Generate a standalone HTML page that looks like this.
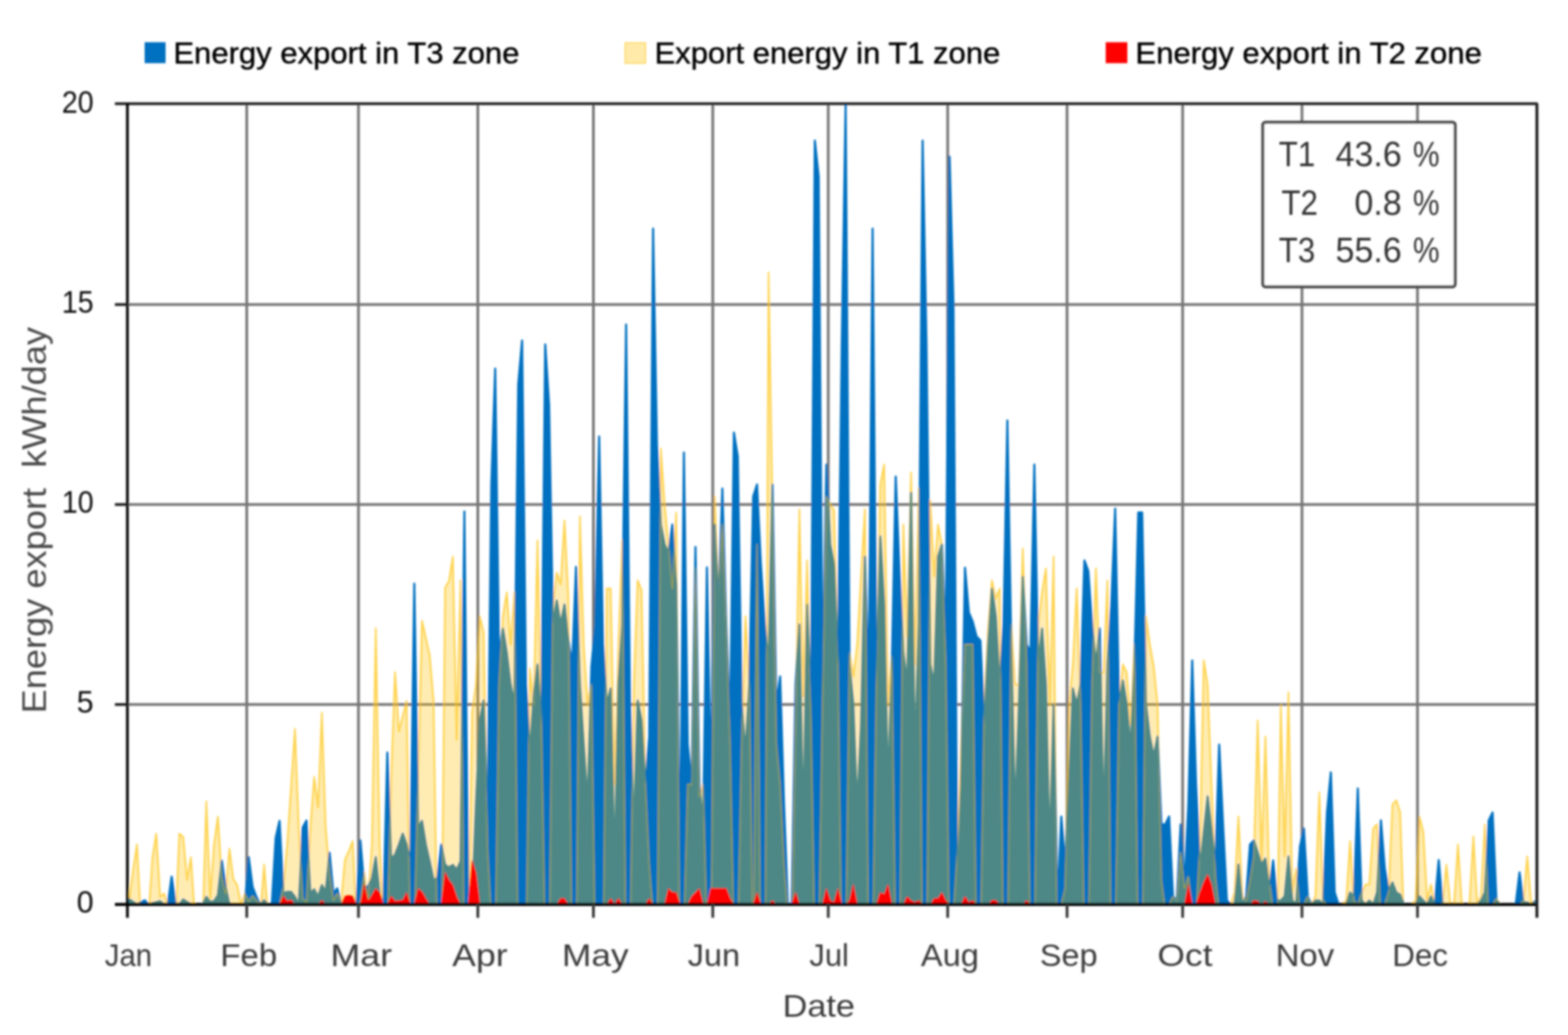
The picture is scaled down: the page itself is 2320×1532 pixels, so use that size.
<!DOCTYPE html>
<html lang="en"><head><meta charset="utf-8"><title>Energy export chart</title>
<style>
html,body{margin:0;padding:0;background:#fff;}
body{width:2320px;height:1532px;overflow:hidden;}
svg{display:block;font-family:"Liberation Sans",sans-serif;}
</style></head><body>
<svg width="2320" height="1532" viewBox="0 0 2320 1532">
<defs><filter id="bl" x="-2%" y="-2%" width="104%" height="104%"><feGaussianBlur stdDeviation="1.4"/></filter><clipPath id="cp"><rect x="187" y="150" width="2088" height="1190.5"/></clipPath></defs>
<rect width="2320" height="1532" fill="#fff"/>
<g filter="url(#bl)">
<g stroke="#757575" stroke-width="4" fill="none">
<line x1="365.1" y1="154" x2="365.1" y2="1339"/>
<line x1="530.4" y1="154" x2="530.4" y2="1339"/>
<line x1="707.0" y1="154" x2="707.0" y2="1339"/>
<line x1="878.0" y1="154" x2="878.0" y2="1339"/>
<line x1="1054.6" y1="154" x2="1054.6" y2="1339"/>
<line x1="1225.5" y1="154" x2="1225.5" y2="1339"/>
<line x1="1402.2" y1="154" x2="1402.2" y2="1339"/>
<line x1="1578.8" y1="154" x2="1578.8" y2="1339"/>
<line x1="1749.8" y1="154" x2="1749.8" y2="1339"/>
<line x1="1926.4" y1="154" x2="1926.4" y2="1339"/>
<line x1="2097.3" y1="154" x2="2097.3" y2="1339"/>
<line x1="188" y1="1042.8" x2="2273" y2="1042.8"/>
<line x1="188" y1="746.8" x2="2273" y2="746.8"/>
<line x1="188" y1="450.8" x2="2273" y2="450.8"/>
</g>
<g clip-path="url(#cp)">
<path d="M191.3 1338.8 L191.3 1331.2 L197.0 1335.0 L202.7 1338.8 L208.4 1335.6 L214.1 1332.5 L219.8 1338.8 L225.5 1337.1 L231.2 1335.4 L236.9 1333.8 L242.6 1338.8 L248.3 1338.8 L254.0 1297.5 L259.7 1338.8 L265.4 1338.8 L271.1 1331.2 L276.8 1335.0 L282.5 1338.8 L288.2 1338.8 L293.9 1338.8 L299.6 1338.8 L305.3 1327.5 L311.0 1335.0 L316.7 1333.8 L322.4 1325.0 L328.1 1273.8 L333.8 1312.5 L339.5 1338.8 L345.2 1338.8 L350.9 1338.8 L356.6 1338.8 L362.3 1338.8 L368.0 1268.8 L373.7 1312.5 L379.4 1327.5 L385.1 1338.8 L390.8 1332.5 L396.5 1338.8 L402.2 1338.8 L407.9 1240.0 L413.6 1215.0 L419.3 1322.5 L425.0 1320.0 L430.7 1320.0 L436.4 1327.5 L442.1 1338.8 L447.8 1225.0 L453.5 1214.5 L459.2 1322.5 L464.9 1316.2 L470.6 1327.5 L476.2 1310.0 L481.9 1320.0 L487.6 1262.0 L493.3 1322.5 L499.0 1315.0 L504.7 1338.8 L510.4 1338.8 L516.1 1338.8 L521.8 1338.8 L527.5 1338.8 L533.2 1243.8 L538.9 1312.5 L544.6 1312.5 L550.3 1300.0 L556.0 1268.8 L561.7 1325.0 L567.4 1338.8 L573.1 1113.8 L578.8 1271.2 L584.5 1265.0 L590.2 1250.0 L595.9 1233.8 L601.6 1250.0 L607.3 1275.0 L613.0 863.8 L618.7 1225.0 L624.4 1215.0 L630.1 1250.0 L635.8 1275.0 L641.5 1302.5 L647.2 1300.0 L652.9 1250.0 L658.6 1280.0 L664.3 1283.8 L670.0 1280.0 L675.7 1287.5 L681.4 1275.0 L687.1 757.0 L692.8 1338.8 L698.5 1338.8 L704.2 1190.8 L709.9 1066.4 L715.6 1036.8 L721.3 1220.3 L727.0 717.1 L732.7 545.5 L738.4 971.7 L744.1 930.3 L749.8 965.8 L755.5 1013.1 L761.1 1042.8 L766.8 569.1 L772.5 504.0 L778.2 1013.1 L783.9 1113.8 L789.6 1030.9 L795.3 983.5 L801.0 1072.3 L806.7 509.9 L812.4 598.8 L818.1 924.3 L823.8 888.8 L829.5 924.3 L835.2 894.8 L840.9 948.0 L846.6 983.5 L852.3 839.1 L858.0 1013.1 L863.7 1102.0 L869.4 1190.8 L875.1 986.5 L880.8 924.3 L886.5 646.1 L892.2 954.0 L897.9 1042.8 L903.6 1019.1 L909.3 1285.5 L915.0 1013.1 L920.7 924.3 L926.4 480.3 L932.1 1042.8 L937.8 1232.2 L943.5 1036.8 L949.2 1066.4 L954.9 1161.2 L960.6 1090.1 L966.3 338.3 L972.0 657.9 L977.7 776.4 L983.4 805.9 L989.1 817.8 L994.8 776.4 L1000.5 865.1 L1006.2 1279.5 L1011.9 669.8 L1017.6 1102.0 L1023.3 1161.2 L1029.0 809.5 L1034.7 1161.2 L1040.4 1220.3 L1046.0 839.7 L1051.7 1161.2 L1057.4 776.4 L1063.1 894.8 L1068.8 723.1 L1074.5 924.3 L1080.2 1072.3 L1085.9 640.2 L1091.6 675.7 L1097.3 1042.8 L1103.0 1113.8 L1108.7 1013.1 L1114.4 734.9 L1120.1 717.1 L1125.8 835.5 L1131.5 924.3 L1137.2 983.5 L1142.9 717.1 L1148.6 1042.8 L1154.3 1001.3 L1160.0 1190.8 L1165.7 1338.8 L1171.4 1338.8 L1177.1 1013.1 L1182.8 924.3 L1188.5 1226.3 L1194.2 894.8 L1199.9 1042.8 L1205.6 208.0 L1211.3 261.3 L1217.0 1013.1 L1222.7 687.5 L1228.4 805.9 L1234.1 835.5 L1239.8 983.5 L1245.5 509.9 L1251.2 154.8 L1256.9 983.5 L1262.6 1042.8 L1268.3 1196.7 L1274.0 1072.3 L1279.7 823.7 L1285.4 1013.1 L1291.1 338.3 L1296.8 1013.1 L1302.5 794.1 L1308.2 894.8 L1313.9 1167.1 L1319.6 983.5 L1325.3 705.3 L1330.9 847.4 L1336.6 965.8 L1342.3 1013.1 L1348.0 729.0 L1353.7 1125.6 L1359.4 924.3 L1365.1 208.0 L1370.8 509.9 L1376.5 983.5 L1382.2 1013.1 L1387.9 823.7 L1393.6 805.9 L1399.3 954.0 L1405.0 231.7 L1410.7 450.8 L1416.4 1321.0 L1422.1 1161.2 L1427.8 840.3 L1433.5 906.6 L1439.2 920.2 L1444.9 942.1 L1450.6 948.0 L1456.3 1072.3 L1462.0 954.0 L1467.7 871.1 L1473.4 912.5 L1479.1 1013.1 L1484.8 924.3 L1490.5 622.4 L1496.2 954.0 L1501.9 1208.5 L1507.6 1042.8 L1513.3 853.3 L1519.0 954.0 L1524.7 965.8 L1530.4 687.5 L1536.1 983.5 L1541.8 930.3 L1547.5 1013.1 L1553.2 1261.8 L1558.9 1042.8 L1564.6 1338.8 L1570.3 1208.5 L1576.0 1279.5 L1581.7 1161.2 L1587.4 1019.1 L1593.1 1042.8 L1598.8 1013.1 L1604.5 829.6 L1610.2 845.0 L1615.8 924.3 L1621.5 983.5 L1627.2 930.3 L1632.9 1220.3 L1638.6 983.5 L1644.3 894.8 L1650.0 752.7 L1655.7 1042.8 L1661.4 1007.2 L1667.1 1042.8 L1672.8 1107.9 L1678.5 983.5 L1684.2 758.6 L1689.9 758.6 L1695.6 1042.8 L1701.3 1090.1 L1707.0 1119.7 L1712.7 1090.1 L1718.4 1220.3 L1724.1 1220.3 L1729.8 1208.5 L1735.5 1326.9 L1741.2 1332.8 L1746.9 1220.3 L1752.6 1309.2 L1758.3 1190.8 L1764.0 977.6 L1769.7 1161.2 L1775.4 1285.5 L1781.1 1232.2 L1786.8 1178.9 L1792.5 1226.3 L1798.2 1279.5 L1803.9 1102.0 L1809.6 1220.3 L1815.3 1332.8 L1821.0 1338.8 L1826.7 1338.8 L1832.4 1279.5 L1838.1 1338.8 L1843.8 1326.9 L1849.5 1250.0 L1855.2 1244.0 L1860.9 1261.8 L1866.6 1279.5 L1872.3 1270.7 L1878.0 1315.1 L1883.7 1273.6 L1889.4 1332.8 L1895.1 1332.8 L1900.7 1326.9 L1906.4 1267.7 L1912.1 1332.8 L1917.8 1338.8 L1923.5 1252.9 L1929.2 1226.3 L1934.9 1326.9 L1940.6 1338.8 L1946.3 1332.8 L1952.0 1332.8 L1957.7 1338.8 L1963.4 1202.6 L1969.1 1143.4 L1974.8 1321.0 L1980.5 1338.8 L1986.2 1338.8 L1991.9 1338.8 L1997.6 1321.0 L2003.3 1326.9 L2009.0 1167.1 L2014.7 1332.8 L2020.4 1338.8 L2026.1 1332.8 L2031.8 1338.8 L2037.5 1321.0 L2043.2 1214.4 L2048.9 1285.5 L2054.6 1318.0 L2060.3 1306.2 L2066.0 1321.0 L2071.7 1324.0 L2077.4 1338.8 L2083.1 1338.8 L2088.8 1338.8 L2094.5 1338.8 L2100.2 1326.9 L2105.9 1332.8 L2111.6 1338.8 L2117.3 1326.9 L2123.0 1338.8 L2128.7 1273.0 L2134.4 1338.8 L2140.1 1338.8 L2145.8 1338.8 L2151.5 1338.8 L2157.2 1338.8 L2162.9 1338.8 L2168.6 1338.8 L2174.3 1338.8 L2180.0 1338.8 L2185.6 1338.8 L2191.3 1332.8 L2197.0 1321.0 L2202.7 1214.4 L2208.4 1202.6 L2214.1 1332.8 L2219.8 1338.8 L2225.5 1338.8 L2231.2 1338.8 L2236.9 1338.8 L2242.6 1338.8 L2248.3 1291.4 L2254.0 1335.8 L2259.7 1335.8 L2265.4 1338.8 L2271.1 1334.0 L2271.1 1338.8Z" fill="#0070c0" stroke="#0070c0" stroke-width="3.1" stroke-linejoin="round"/>
<path d="M191.3 1338.8 L191.3 1332.5 L197.0 1287.5 L202.7 1250.0 L207.3 1338.8 L214.1 1338.8 L220.9 1338.8 L225.5 1270.0 L231.2 1233.8 L236.9 1327.5 L242.6 1322.5 L248.3 1338.8 L254.0 1338.8 L260.8 1338.8 L265.4 1233.8 L271.1 1238.8 L276.8 1302.5 L282.5 1268.8 L287.1 1338.8 L293.9 1338.8 L300.7 1338.8 L305.3 1186.2 L311.0 1330.0 L316.7 1250.0 L322.4 1208.8 L328.1 1297.5 L333.8 1322.5 L339.5 1256.2 L345.2 1301.2 L350.9 1310.0 L356.6 1338.8 L362.3 1322.5 L368.0 1333.8 L373.7 1326.2 L379.4 1332.5 L386.2 1338.8 L390.8 1280.0 L395.4 1338.8 L402.2 1338.8 L407.9 1338.8 L413.6 1338.8 L419.3 1312.5 L425.0 1250.0 L430.7 1164.4 L436.4 1078.8 L442.1 1225.0 L447.8 1330.0 L453.5 1335.0 L459.2 1225.0 L464.9 1150.0 L470.6 1195.0 L476.2 1055.0 L481.9 1225.0 L487.6 1292.5 L493.3 1332.5 L499.0 1322.5 L504.7 1335.0 L510.4 1272.5 L516.1 1260.0 L521.8 1245.0 L526.4 1338.8 L533.2 1335.0 L538.9 1291.2 L544.6 1332.5 L550.3 1250.0 L556.0 930.0 L561.7 1250.0 L566.3 1338.8 L574.2 1338.8 L578.8 1150.0 L584.5 995.0 L590.2 1082.5 L595.9 1060.0 L601.6 1037.5 L606.2 1338.8 L614.1 1338.8 L618.7 1150.0 L624.4 918.8 L630.1 944.4 L635.8 970.0 L641.5 1037.5 L646.1 1338.8 L654.0 1338.8 L658.6 870.0 L664.3 860.0 L670.0 823.8 L675.7 1095.0 L681.4 858.8 L686.0 1338.8 L693.9 1338.8 L698.5 1054.6 L704.2 1013.1 L709.9 912.5 L715.6 936.2 L721.3 1255.9 L725.9 1338.8 L733.8 1338.8 L738.4 1013.1 L744.1 912.5 L749.8 877.0 L755.5 954.0 L761.1 877.0 L765.7 1338.8 L772.5 1338.8 L779.3 1338.8 L783.9 989.5 L789.6 1042.8 L795.3 800.0 L801.0 1072.3 L805.6 1338.8 L813.5 1338.8 L818.1 894.8 L823.8 847.4 L829.5 865.1 L835.2 770.4 L840.9 882.9 L845.5 1338.8 L853.4 1338.8 L858.0 764.5 L863.7 954.0 L869.4 1042.8 L875.1 1013.1 L879.7 1338.8 L886.5 1338.8 L893.3 1338.8 L897.9 871.1 L903.6 871.1 L909.3 1161.2 L915.0 954.0 L920.7 800.0 L925.3 1338.8 L933.2 1338.8 L937.8 1013.1 L943.5 859.2 L949.2 873.4 L954.9 1161.2 L960.6 1279.5 L965.2 1338.8 L973.1 1338.8 L977.7 663.9 L983.4 746.8 L989.1 805.9 L994.8 871.1 L1000.5 758.6 L1005.1 1338.8 L1013.0 1338.8 L1017.6 1161.2 L1023.3 1161.2 L1029.0 839.7 L1034.7 1178.9 L1040.4 1161.2 L1044.9 1338.8 L1052.8 1338.8 L1057.4 734.9 L1063.1 877.0 L1068.8 776.4 L1074.5 924.3 L1080.2 1102.0 L1084.8 1338.8 L1092.7 1338.8 L1097.3 1102.0 L1103.0 912.5 L1108.7 1013.1 L1113.3 1338.8 L1115.5 1338.8 L1120.1 805.9 L1124.7 1338.8 L1132.6 1338.8 L1137.2 403.4 L1142.9 746.8 L1148.6 1102.0 L1154.3 1161.2 L1160.0 1279.5 L1164.6 1338.8 L1172.5 1338.8 L1177.1 1072.3 L1182.8 753.9 L1188.5 1030.9 L1194.2 829.6 L1199.9 1072.3 L1204.5 1338.8 L1212.4 1338.8 L1217.0 1042.8 L1222.7 734.9 L1228.4 746.8 L1234.1 755.0 L1239.8 983.5 L1244.4 1338.8 L1252.3 1338.8 L1256.9 965.8 L1262.6 1001.3 L1268.3 954.0 L1274.0 853.3 L1279.7 753.9 L1284.3 1338.8 L1292.2 1338.8 L1296.8 1013.1 L1302.5 717.1 L1308.2 687.5 L1313.9 1042.8 L1319.6 971.7 L1324.2 1338.8 L1332.0 1338.8 L1336.6 776.4 L1342.3 942.1 L1348.0 699.4 L1353.7 983.5 L1359.4 723.1 L1364.0 1338.8 L1371.9 1338.8 L1376.5 740.8 L1382.2 853.3 L1387.9 776.4 L1393.6 805.9 L1399.3 983.5 L1403.9 1338.8 L1411.8 1338.8 L1416.4 1261.8 L1422.1 1102.0 L1427.8 954.0 L1433.5 954.0 L1439.2 954.0 L1443.8 1338.8 L1451.7 1338.8 L1456.3 1042.8 L1462.0 930.3 L1467.7 859.2 L1473.4 885.9 L1479.1 871.1 L1483.7 1338.8 L1491.6 1338.8 L1496.2 924.3 L1501.9 1013.1 L1507.6 1013.1 L1513.3 811.9 L1519.0 983.5 L1523.6 1338.8 L1531.5 1338.8 L1536.1 924.3 L1541.8 877.0 L1547.5 841.5 L1553.2 1042.8 L1558.9 823.7 L1563.5 1338.8 L1570.3 1338.8 L1576.0 1315.1 L1581.7 1042.8 L1587.4 983.5 L1593.1 871.1 L1598.8 1042.8 L1603.4 1338.8 L1611.3 1338.8 L1615.8 1013.1 L1621.5 841.5 L1627.2 995.4 L1632.9 995.4 L1638.6 859.2 L1643.2 1338.8 L1651.1 1338.8 L1655.7 1042.8 L1661.4 983.5 L1667.1 995.4 L1672.8 1072.3 L1678.5 954.0 L1683.1 1338.8 L1691.0 1338.8 L1695.6 912.5 L1701.3 954.0 L1707.0 986.5 L1712.7 1042.8 L1718.4 1303.2 L1723.0 1338.8 L1729.8 1338.8 L1735.5 1326.9 L1741.2 1332.8 L1746.9 1261.8 L1752.6 1315.1 L1758.3 1297.3 L1762.9 1338.8 L1770.8 1338.8 L1775.4 1250.0 L1781.1 977.6 L1786.8 1013.1 L1792.5 1161.2 L1798.2 1297.3 L1802.8 1338.8 L1809.6 1338.8 L1815.3 1338.8 L1821.0 1338.8 L1826.7 1321.0 L1832.4 1208.5 L1838.1 1326.9 L1843.8 1332.8 L1849.5 1303.2 L1855.2 1267.7 L1860.9 1066.4 L1866.6 1273.6 L1872.3 1090.1 L1878.0 1303.2 L1882.6 1338.8 L1890.5 1338.8 L1895.1 1042.8 L1900.7 1267.7 L1906.4 1025.0 L1912.1 1321.0 L1917.8 1285.5 L1922.4 1338.8 L1929.2 1338.8 L1934.9 1326.9 L1940.6 1338.8 L1946.3 1326.9 L1952.0 1173.0 L1957.7 1332.8 L1963.4 1338.8 L1969.1 1338.8 L1974.8 1338.8 L1980.5 1338.8 L1986.2 1338.8 L1991.9 1332.8 L1997.6 1245.2 L2003.3 1332.8 L2009.0 1338.8 L2014.7 1321.0 L2020.4 1309.2 L2026.1 1309.2 L2031.8 1226.3 L2037.5 1220.3 L2042.1 1338.8 L2048.9 1338.8 L2054.6 1321.0 L2060.3 1190.8 L2066.0 1184.8 L2071.7 1202.6 L2076.3 1338.8 L2083.1 1338.8 L2088.8 1338.8 L2094.5 1332.8 L2100.2 1209.1 L2105.9 1231.0 L2111.6 1332.8 L2117.3 1309.2 L2123.0 1338.8 L2128.7 1338.8 L2134.4 1335.8 L2140.1 1280.1 L2145.8 1337.6 L2151.5 1337.0 L2157.2 1250.0 L2162.9 1337.0 L2168.6 1338.8 L2174.3 1337.0 L2180.0 1238.1 L2185.6 1337.0 L2191.3 1326.9 L2197.0 1220.3 L2201.6 1338.8 L2208.4 1338.8 L2214.1 1329.9 L2219.8 1338.8 L2225.5 1338.8 L2231.2 1338.8 L2236.9 1338.8 L2242.6 1338.8 L2248.3 1338.8 L2254.0 1332.8 L2259.7 1267.7 L2265.4 1335.8 L2271.1 1334.0 L2271.1 1338.8Z" fill="#ffc000" fill-opacity="0.3" stroke="none"/>
<mask id="nb" maskUnits="userSpaceOnUse" x="180" y="140" width="2110" height="1210"><rect x="180" y="140" width="2110" height="1210" fill="#fff"/><path d="M191.3 1338.8 L191.3 1331.2 L197.0 1335.0 L202.7 1338.8 L208.4 1335.6 L214.1 1332.5 L219.8 1338.8 L225.5 1337.1 L231.2 1335.4 L236.9 1333.8 L242.6 1338.8 L248.3 1338.8 L254.0 1297.5 L259.7 1338.8 L265.4 1338.8 L271.1 1331.2 L276.8 1335.0 L282.5 1338.8 L288.2 1338.8 L293.9 1338.8 L299.6 1338.8 L305.3 1327.5 L311.0 1335.0 L316.7 1333.8 L322.4 1325.0 L328.1 1273.8 L333.8 1312.5 L339.5 1338.8 L345.2 1338.8 L350.9 1338.8 L356.6 1338.8 L362.3 1338.8 L368.0 1268.8 L373.7 1312.5 L379.4 1327.5 L385.1 1338.8 L390.8 1332.5 L396.5 1338.8 L402.2 1338.8 L407.9 1240.0 L413.6 1215.0 L419.3 1322.5 L425.0 1320.0 L430.7 1320.0 L436.4 1327.5 L442.1 1338.8 L447.8 1225.0 L453.5 1214.5 L459.2 1322.5 L464.9 1316.2 L470.6 1327.5 L476.2 1310.0 L481.9 1320.0 L487.6 1262.0 L493.3 1322.5 L499.0 1315.0 L504.7 1338.8 L510.4 1338.8 L516.1 1338.8 L521.8 1338.8 L527.5 1338.8 L533.2 1243.8 L538.9 1312.5 L544.6 1312.5 L550.3 1300.0 L556.0 1268.8 L561.7 1325.0 L567.4 1338.8 L573.1 1113.8 L578.8 1271.2 L584.5 1265.0 L590.2 1250.0 L595.9 1233.8 L601.6 1250.0 L607.3 1275.0 L613.0 863.8 L618.7 1225.0 L624.4 1215.0 L630.1 1250.0 L635.8 1275.0 L641.5 1302.5 L647.2 1300.0 L652.9 1250.0 L658.6 1280.0 L664.3 1283.8 L670.0 1280.0 L675.7 1287.5 L681.4 1275.0 L687.1 757.0 L692.8 1338.8 L698.5 1338.8 L704.2 1190.8 L709.9 1066.4 L715.6 1036.8 L721.3 1220.3 L727.0 717.1 L732.7 545.5 L738.4 971.7 L744.1 930.3 L749.8 965.8 L755.5 1013.1 L761.1 1042.8 L766.8 569.1 L772.5 504.0 L778.2 1013.1 L783.9 1113.8 L789.6 1030.9 L795.3 983.5 L801.0 1072.3 L806.7 509.9 L812.4 598.8 L818.1 924.3 L823.8 888.8 L829.5 924.3 L835.2 894.8 L840.9 948.0 L846.6 983.5 L852.3 839.1 L858.0 1013.1 L863.7 1102.0 L869.4 1190.8 L875.1 986.5 L880.8 924.3 L886.5 646.1 L892.2 954.0 L897.9 1042.8 L903.6 1019.1 L909.3 1285.5 L915.0 1013.1 L920.7 924.3 L926.4 480.3 L932.1 1042.8 L937.8 1232.2 L943.5 1036.8 L949.2 1066.4 L954.9 1161.2 L960.6 1090.1 L966.3 338.3 L972.0 657.9 L977.7 776.4 L983.4 805.9 L989.1 817.8 L994.8 776.4 L1000.5 865.1 L1006.2 1279.5 L1011.9 669.8 L1017.6 1102.0 L1023.3 1161.2 L1029.0 809.5 L1034.7 1161.2 L1040.4 1220.3 L1046.0 839.7 L1051.7 1161.2 L1057.4 776.4 L1063.1 894.8 L1068.8 723.1 L1074.5 924.3 L1080.2 1072.3 L1085.9 640.2 L1091.6 675.7 L1097.3 1042.8 L1103.0 1113.8 L1108.7 1013.1 L1114.4 734.9 L1120.1 717.1 L1125.8 835.5 L1131.5 924.3 L1137.2 983.5 L1142.9 717.1 L1148.6 1042.8 L1154.3 1001.3 L1160.0 1190.8 L1165.7 1338.8 L1171.4 1338.8 L1177.1 1013.1 L1182.8 924.3 L1188.5 1226.3 L1194.2 894.8 L1199.9 1042.8 L1205.6 208.0 L1211.3 261.3 L1217.0 1013.1 L1222.7 687.5 L1228.4 805.9 L1234.1 835.5 L1239.8 983.5 L1245.5 509.9 L1251.2 154.8 L1256.9 983.5 L1262.6 1042.8 L1268.3 1196.7 L1274.0 1072.3 L1279.7 823.7 L1285.4 1013.1 L1291.1 338.3 L1296.8 1013.1 L1302.5 794.1 L1308.2 894.8 L1313.9 1167.1 L1319.6 983.5 L1325.3 705.3 L1330.9 847.4 L1336.6 965.8 L1342.3 1013.1 L1348.0 729.0 L1353.7 1125.6 L1359.4 924.3 L1365.1 208.0 L1370.8 509.9 L1376.5 983.5 L1382.2 1013.1 L1387.9 823.7 L1393.6 805.9 L1399.3 954.0 L1405.0 231.7 L1410.7 450.8 L1416.4 1321.0 L1422.1 1161.2 L1427.8 840.3 L1433.5 906.6 L1439.2 920.2 L1444.9 942.1 L1450.6 948.0 L1456.3 1072.3 L1462.0 954.0 L1467.7 871.1 L1473.4 912.5 L1479.1 1013.1 L1484.8 924.3 L1490.5 622.4 L1496.2 954.0 L1501.9 1208.5 L1507.6 1042.8 L1513.3 853.3 L1519.0 954.0 L1524.7 965.8 L1530.4 687.5 L1536.1 983.5 L1541.8 930.3 L1547.5 1013.1 L1553.2 1261.8 L1558.9 1042.8 L1564.6 1338.8 L1570.3 1208.5 L1576.0 1279.5 L1581.7 1161.2 L1587.4 1019.1 L1593.1 1042.8 L1598.8 1013.1 L1604.5 829.6 L1610.2 845.0 L1615.8 924.3 L1621.5 983.5 L1627.2 930.3 L1632.9 1220.3 L1638.6 983.5 L1644.3 894.8 L1650.0 752.7 L1655.7 1042.8 L1661.4 1007.2 L1667.1 1042.8 L1672.8 1107.9 L1678.5 983.5 L1684.2 758.6 L1689.9 758.6 L1695.6 1042.8 L1701.3 1090.1 L1707.0 1119.7 L1712.7 1090.1 L1718.4 1220.3 L1724.1 1220.3 L1729.8 1208.5 L1735.5 1326.9 L1741.2 1332.8 L1746.9 1220.3 L1752.6 1309.2 L1758.3 1190.8 L1764.0 977.6 L1769.7 1161.2 L1775.4 1285.5 L1781.1 1232.2 L1786.8 1178.9 L1792.5 1226.3 L1798.2 1279.5 L1803.9 1102.0 L1809.6 1220.3 L1815.3 1332.8 L1821.0 1338.8 L1826.7 1338.8 L1832.4 1279.5 L1838.1 1338.8 L1843.8 1326.9 L1849.5 1250.0 L1855.2 1244.0 L1860.9 1261.8 L1866.6 1279.5 L1872.3 1270.7 L1878.0 1315.1 L1883.7 1273.6 L1889.4 1332.8 L1895.1 1332.8 L1900.7 1326.9 L1906.4 1267.7 L1912.1 1332.8 L1917.8 1338.8 L1923.5 1252.9 L1929.2 1226.3 L1934.9 1326.9 L1940.6 1338.8 L1946.3 1332.8 L1952.0 1332.8 L1957.7 1338.8 L1963.4 1202.6 L1969.1 1143.4 L1974.8 1321.0 L1980.5 1338.8 L1986.2 1338.8 L1991.9 1338.8 L1997.6 1321.0 L2003.3 1326.9 L2009.0 1167.1 L2014.7 1332.8 L2020.4 1338.8 L2026.1 1332.8 L2031.8 1338.8 L2037.5 1321.0 L2043.2 1214.4 L2048.9 1285.5 L2054.6 1318.0 L2060.3 1306.2 L2066.0 1321.0 L2071.7 1324.0 L2077.4 1338.8 L2083.1 1338.8 L2088.8 1338.8 L2094.5 1338.8 L2100.2 1326.9 L2105.9 1332.8 L2111.6 1338.8 L2117.3 1326.9 L2123.0 1338.8 L2128.7 1273.0 L2134.4 1338.8 L2140.1 1338.8 L2145.8 1338.8 L2151.5 1338.8 L2157.2 1338.8 L2162.9 1338.8 L2168.6 1338.8 L2174.3 1338.8 L2180.0 1338.8 L2185.6 1338.8 L2191.3 1332.8 L2197.0 1321.0 L2202.7 1214.4 L2208.4 1202.6 L2214.1 1332.8 L2219.8 1338.8 L2225.5 1338.8 L2231.2 1338.8 L2236.9 1338.8 L2242.6 1338.8 L2248.3 1291.4 L2254.0 1335.8 L2259.7 1335.8 L2265.4 1338.8 L2271.1 1334.0 L2271.1 1338.8Z" fill="#000" stroke="#000" stroke-width="2.4"/></mask>
<clipPath id="inb"><path d="M191.3 1338.8 L191.3 1331.2 L197.0 1335.0 L202.7 1338.8 L208.4 1335.6 L214.1 1332.5 L219.8 1338.8 L225.5 1337.1 L231.2 1335.4 L236.9 1333.8 L242.6 1338.8 L248.3 1338.8 L254.0 1297.5 L259.7 1338.8 L265.4 1338.8 L271.1 1331.2 L276.8 1335.0 L282.5 1338.8 L288.2 1338.8 L293.9 1338.8 L299.6 1338.8 L305.3 1327.5 L311.0 1335.0 L316.7 1333.8 L322.4 1325.0 L328.1 1273.8 L333.8 1312.5 L339.5 1338.8 L345.2 1338.8 L350.9 1338.8 L356.6 1338.8 L362.3 1338.8 L368.0 1268.8 L373.7 1312.5 L379.4 1327.5 L385.1 1338.8 L390.8 1332.5 L396.5 1338.8 L402.2 1338.8 L407.9 1240.0 L413.6 1215.0 L419.3 1322.5 L425.0 1320.0 L430.7 1320.0 L436.4 1327.5 L442.1 1338.8 L447.8 1225.0 L453.5 1214.5 L459.2 1322.5 L464.9 1316.2 L470.6 1327.5 L476.2 1310.0 L481.9 1320.0 L487.6 1262.0 L493.3 1322.5 L499.0 1315.0 L504.7 1338.8 L510.4 1338.8 L516.1 1338.8 L521.8 1338.8 L527.5 1338.8 L533.2 1243.8 L538.9 1312.5 L544.6 1312.5 L550.3 1300.0 L556.0 1268.8 L561.7 1325.0 L567.4 1338.8 L573.1 1113.8 L578.8 1271.2 L584.5 1265.0 L590.2 1250.0 L595.9 1233.8 L601.6 1250.0 L607.3 1275.0 L613.0 863.8 L618.7 1225.0 L624.4 1215.0 L630.1 1250.0 L635.8 1275.0 L641.5 1302.5 L647.2 1300.0 L652.9 1250.0 L658.6 1280.0 L664.3 1283.8 L670.0 1280.0 L675.7 1287.5 L681.4 1275.0 L687.1 757.0 L692.8 1338.8 L698.5 1338.8 L704.2 1190.8 L709.9 1066.4 L715.6 1036.8 L721.3 1220.3 L727.0 717.1 L732.7 545.5 L738.4 971.7 L744.1 930.3 L749.8 965.8 L755.5 1013.1 L761.1 1042.8 L766.8 569.1 L772.5 504.0 L778.2 1013.1 L783.9 1113.8 L789.6 1030.9 L795.3 983.5 L801.0 1072.3 L806.7 509.9 L812.4 598.8 L818.1 924.3 L823.8 888.8 L829.5 924.3 L835.2 894.8 L840.9 948.0 L846.6 983.5 L852.3 839.1 L858.0 1013.1 L863.7 1102.0 L869.4 1190.8 L875.1 986.5 L880.8 924.3 L886.5 646.1 L892.2 954.0 L897.9 1042.8 L903.6 1019.1 L909.3 1285.5 L915.0 1013.1 L920.7 924.3 L926.4 480.3 L932.1 1042.8 L937.8 1232.2 L943.5 1036.8 L949.2 1066.4 L954.9 1161.2 L960.6 1090.1 L966.3 338.3 L972.0 657.9 L977.7 776.4 L983.4 805.9 L989.1 817.8 L994.8 776.4 L1000.5 865.1 L1006.2 1279.5 L1011.9 669.8 L1017.6 1102.0 L1023.3 1161.2 L1029.0 809.5 L1034.7 1161.2 L1040.4 1220.3 L1046.0 839.7 L1051.7 1161.2 L1057.4 776.4 L1063.1 894.8 L1068.8 723.1 L1074.5 924.3 L1080.2 1072.3 L1085.9 640.2 L1091.6 675.7 L1097.3 1042.8 L1103.0 1113.8 L1108.7 1013.1 L1114.4 734.9 L1120.1 717.1 L1125.8 835.5 L1131.5 924.3 L1137.2 983.5 L1142.9 717.1 L1148.6 1042.8 L1154.3 1001.3 L1160.0 1190.8 L1165.7 1338.8 L1171.4 1338.8 L1177.1 1013.1 L1182.8 924.3 L1188.5 1226.3 L1194.2 894.8 L1199.9 1042.8 L1205.6 208.0 L1211.3 261.3 L1217.0 1013.1 L1222.7 687.5 L1228.4 805.9 L1234.1 835.5 L1239.8 983.5 L1245.5 509.9 L1251.2 154.8 L1256.9 983.5 L1262.6 1042.8 L1268.3 1196.7 L1274.0 1072.3 L1279.7 823.7 L1285.4 1013.1 L1291.1 338.3 L1296.8 1013.1 L1302.5 794.1 L1308.2 894.8 L1313.9 1167.1 L1319.6 983.5 L1325.3 705.3 L1330.9 847.4 L1336.6 965.8 L1342.3 1013.1 L1348.0 729.0 L1353.7 1125.6 L1359.4 924.3 L1365.1 208.0 L1370.8 509.9 L1376.5 983.5 L1382.2 1013.1 L1387.9 823.7 L1393.6 805.9 L1399.3 954.0 L1405.0 231.7 L1410.7 450.8 L1416.4 1321.0 L1422.1 1161.2 L1427.8 840.3 L1433.5 906.6 L1439.2 920.2 L1444.9 942.1 L1450.6 948.0 L1456.3 1072.3 L1462.0 954.0 L1467.7 871.1 L1473.4 912.5 L1479.1 1013.1 L1484.8 924.3 L1490.5 622.4 L1496.2 954.0 L1501.9 1208.5 L1507.6 1042.8 L1513.3 853.3 L1519.0 954.0 L1524.7 965.8 L1530.4 687.5 L1536.1 983.5 L1541.8 930.3 L1547.5 1013.1 L1553.2 1261.8 L1558.9 1042.8 L1564.6 1338.8 L1570.3 1208.5 L1576.0 1279.5 L1581.7 1161.2 L1587.4 1019.1 L1593.1 1042.8 L1598.8 1013.1 L1604.5 829.6 L1610.2 845.0 L1615.8 924.3 L1621.5 983.5 L1627.2 930.3 L1632.9 1220.3 L1638.6 983.5 L1644.3 894.8 L1650.0 752.7 L1655.7 1042.8 L1661.4 1007.2 L1667.1 1042.8 L1672.8 1107.9 L1678.5 983.5 L1684.2 758.6 L1689.9 758.6 L1695.6 1042.8 L1701.3 1090.1 L1707.0 1119.7 L1712.7 1090.1 L1718.4 1220.3 L1724.1 1220.3 L1729.8 1208.5 L1735.5 1326.9 L1741.2 1332.8 L1746.9 1220.3 L1752.6 1309.2 L1758.3 1190.8 L1764.0 977.6 L1769.7 1161.2 L1775.4 1285.5 L1781.1 1232.2 L1786.8 1178.9 L1792.5 1226.3 L1798.2 1279.5 L1803.9 1102.0 L1809.6 1220.3 L1815.3 1332.8 L1821.0 1338.8 L1826.7 1338.8 L1832.4 1279.5 L1838.1 1338.8 L1843.8 1326.9 L1849.5 1250.0 L1855.2 1244.0 L1860.9 1261.8 L1866.6 1279.5 L1872.3 1270.7 L1878.0 1315.1 L1883.7 1273.6 L1889.4 1332.8 L1895.1 1332.8 L1900.7 1326.9 L1906.4 1267.7 L1912.1 1332.8 L1917.8 1338.8 L1923.5 1252.9 L1929.2 1226.3 L1934.9 1326.9 L1940.6 1338.8 L1946.3 1332.8 L1952.0 1332.8 L1957.7 1338.8 L1963.4 1202.6 L1969.1 1143.4 L1974.8 1321.0 L1980.5 1338.8 L1986.2 1338.8 L1991.9 1338.8 L1997.6 1321.0 L2003.3 1326.9 L2009.0 1167.1 L2014.7 1332.8 L2020.4 1338.8 L2026.1 1332.8 L2031.8 1338.8 L2037.5 1321.0 L2043.2 1214.4 L2048.9 1285.5 L2054.6 1318.0 L2060.3 1306.2 L2066.0 1321.0 L2071.7 1324.0 L2077.4 1338.8 L2083.1 1338.8 L2088.8 1338.8 L2094.5 1338.8 L2100.2 1326.9 L2105.9 1332.8 L2111.6 1338.8 L2117.3 1326.9 L2123.0 1338.8 L2128.7 1273.0 L2134.4 1338.8 L2140.1 1338.8 L2145.8 1338.8 L2151.5 1338.8 L2157.2 1338.8 L2162.9 1338.8 L2168.6 1338.8 L2174.3 1338.8 L2180.0 1338.8 L2185.6 1338.8 L2191.3 1332.8 L2197.0 1321.0 L2202.7 1214.4 L2208.4 1202.6 L2214.1 1332.8 L2219.8 1338.8 L2225.5 1338.8 L2231.2 1338.8 L2236.9 1338.8 L2242.6 1338.8 L2248.3 1291.4 L2254.0 1335.8 L2259.7 1335.8 L2265.4 1338.8 L2271.1 1334.0 L2271.1 1338.8Z"/></clipPath>
<path d="M191.3 1332.5 L197.0 1287.5 L202.7 1250.0 L207.3 1338.8 L214.1 1338.8 L220.9 1338.8 L225.5 1270.0 L231.2 1233.8 L236.9 1327.5 L242.6 1322.5 L248.3 1338.8 L254.0 1338.8 L260.8 1338.8 L265.4 1233.8 L271.1 1238.8 L276.8 1302.5 L282.5 1268.8 L287.1 1338.8 L293.9 1338.8 L300.7 1338.8 L305.3 1186.2 L311.0 1330.0 L316.7 1250.0 L322.4 1208.8 L328.1 1297.5 L333.8 1322.5 L339.5 1256.2 L345.2 1301.2 L350.9 1310.0 L356.6 1338.8 L362.3 1322.5 L368.0 1333.8 L373.7 1326.2 L379.4 1332.5 L386.2 1338.8 L390.8 1280.0 L395.4 1338.8 L402.2 1338.8 L407.9 1338.8 L413.6 1338.8 L419.3 1312.5 L425.0 1250.0 L430.7 1164.4 L436.4 1078.8 L442.1 1225.0 L447.8 1330.0 L453.5 1335.0 L459.2 1225.0 L464.9 1150.0 L470.6 1195.0 L476.2 1055.0 L481.9 1225.0 L487.6 1292.5 L493.3 1332.5 L499.0 1322.5 L504.7 1335.0 L510.4 1272.5 L516.1 1260.0 L521.8 1245.0 L526.4 1338.8 L533.2 1335.0 L538.9 1291.2 L544.6 1332.5 L550.3 1250.0 L556.0 930.0 L561.7 1250.0 L566.3 1338.8 L574.2 1338.8 L578.8 1150.0 L584.5 995.0 L590.2 1082.5 L595.9 1060.0 L601.6 1037.5 L606.2 1338.8 L614.1 1338.8 L618.7 1150.0 L624.4 918.8 L630.1 944.4 L635.8 970.0 L641.5 1037.5 L646.1 1338.8 L654.0 1338.8 L658.6 870.0 L664.3 860.0 L670.0 823.8 L675.7 1095.0 L681.4 858.8 L686.0 1338.8 L693.9 1338.8 L698.5 1054.6 L704.2 1013.1 L709.9 912.5 L715.6 936.2 L721.3 1255.9 L725.9 1338.8 L733.8 1338.8 L738.4 1013.1 L744.1 912.5 L749.8 877.0 L755.5 954.0 L761.1 877.0 L765.7 1338.8 L772.5 1338.8 L779.3 1338.8 L783.9 989.5 L789.6 1042.8 L795.3 800.0 L801.0 1072.3 L805.6 1338.8 L813.5 1338.8 L818.1 894.8 L823.8 847.4 L829.5 865.1 L835.2 770.4 L840.9 882.9 L845.5 1338.8 L853.4 1338.8 L858.0 764.5 L863.7 954.0 L869.4 1042.8 L875.1 1013.1 L879.7 1338.8 L886.5 1338.8 L893.3 1338.8 L897.9 871.1 L903.6 871.1 L909.3 1161.2 L915.0 954.0 L920.7 800.0 L925.3 1338.8 L933.2 1338.8 L937.8 1013.1 L943.5 859.2 L949.2 873.4 L954.9 1161.2 L960.6 1279.5 L965.2 1338.8 L973.1 1338.8 L977.7 663.9 L983.4 746.8 L989.1 805.9 L994.8 871.1 L1000.5 758.6 L1005.1 1338.8 L1013.0 1338.8 L1017.6 1161.2 L1023.3 1161.2 L1029.0 839.7 L1034.7 1178.9 L1040.4 1161.2 L1044.9 1338.8 L1052.8 1338.8 L1057.4 734.9 L1063.1 877.0 L1068.8 776.4 L1074.5 924.3 L1080.2 1102.0 L1084.8 1338.8 L1092.7 1338.8 L1097.3 1102.0 L1103.0 912.5 L1108.7 1013.1 L1113.3 1338.8 L1115.5 1338.8 L1120.1 805.9 L1124.7 1338.8 L1132.6 1338.8 L1137.2 403.4 L1142.9 746.8 L1148.6 1102.0 L1154.3 1161.2 L1160.0 1279.5 L1164.6 1338.8 L1172.5 1338.8 L1177.1 1072.3 L1182.8 753.9 L1188.5 1030.9 L1194.2 829.6 L1199.9 1072.3 L1204.5 1338.8 L1212.4 1338.8 L1217.0 1042.8 L1222.7 734.9 L1228.4 746.8 L1234.1 755.0 L1239.8 983.5 L1244.4 1338.8 L1252.3 1338.8 L1256.9 965.8 L1262.6 1001.3 L1268.3 954.0 L1274.0 853.3 L1279.7 753.9 L1284.3 1338.8 L1292.2 1338.8 L1296.8 1013.1 L1302.5 717.1 L1308.2 687.5 L1313.9 1042.8 L1319.6 971.7 L1324.2 1338.8 L1332.0 1338.8 L1336.6 776.4 L1342.3 942.1 L1348.0 699.4 L1353.7 983.5 L1359.4 723.1 L1364.0 1338.8 L1371.9 1338.8 L1376.5 740.8 L1382.2 853.3 L1387.9 776.4 L1393.6 805.9 L1399.3 983.5 L1403.9 1338.8 L1411.8 1338.8 L1416.4 1261.8 L1422.1 1102.0 L1427.8 954.0 L1433.5 954.0 L1439.2 954.0 L1443.8 1338.8 L1451.7 1338.8 L1456.3 1042.8 L1462.0 930.3 L1467.7 859.2 L1473.4 885.9 L1479.1 871.1 L1483.7 1338.8 L1491.6 1338.8 L1496.2 924.3 L1501.9 1013.1 L1507.6 1013.1 L1513.3 811.9 L1519.0 983.5 L1523.6 1338.8 L1531.5 1338.8 L1536.1 924.3 L1541.8 877.0 L1547.5 841.5 L1553.2 1042.8 L1558.9 823.7 L1563.5 1338.8 L1570.3 1338.8 L1576.0 1315.1 L1581.7 1042.8 L1587.4 983.5 L1593.1 871.1 L1598.8 1042.8 L1603.4 1338.8 L1611.3 1338.8 L1615.8 1013.1 L1621.5 841.5 L1627.2 995.4 L1632.9 995.4 L1638.6 859.2 L1643.2 1338.8 L1651.1 1338.8 L1655.7 1042.8 L1661.4 983.5 L1667.1 995.4 L1672.8 1072.3 L1678.5 954.0 L1683.1 1338.8 L1691.0 1338.8 L1695.6 912.5 L1701.3 954.0 L1707.0 986.5 L1712.7 1042.8 L1718.4 1303.2 L1723.0 1338.8 L1729.8 1338.8 L1735.5 1326.9 L1741.2 1332.8 L1746.9 1261.8 L1752.6 1315.1 L1758.3 1297.3 L1762.9 1338.8 L1770.8 1338.8 L1775.4 1250.0 L1781.1 977.6 L1786.8 1013.1 L1792.5 1161.2 L1798.2 1297.3 L1802.8 1338.8 L1809.6 1338.8 L1815.3 1338.8 L1821.0 1338.8 L1826.7 1321.0 L1832.4 1208.5 L1838.1 1326.9 L1843.8 1332.8 L1849.5 1303.2 L1855.2 1267.7 L1860.9 1066.4 L1866.6 1273.6 L1872.3 1090.1 L1878.0 1303.2 L1882.6 1338.8 L1890.5 1338.8 L1895.1 1042.8 L1900.7 1267.7 L1906.4 1025.0 L1912.1 1321.0 L1917.8 1285.5 L1922.4 1338.8 L1929.2 1338.8 L1934.9 1326.9 L1940.6 1338.8 L1946.3 1326.9 L1952.0 1173.0 L1957.7 1332.8 L1963.4 1338.8 L1969.1 1338.8 L1974.8 1338.8 L1980.5 1338.8 L1986.2 1338.8 L1991.9 1332.8 L1997.6 1245.2 L2003.3 1332.8 L2009.0 1338.8 L2014.7 1321.0 L2020.4 1309.2 L2026.1 1309.2 L2031.8 1226.3 L2037.5 1220.3 L2042.1 1338.8 L2048.9 1338.8 L2054.6 1321.0 L2060.3 1190.8 L2066.0 1184.8 L2071.7 1202.6 L2076.3 1338.8 L2083.1 1338.8 L2088.8 1338.8 L2094.5 1332.8 L2100.2 1209.1 L2105.9 1231.0 L2111.6 1332.8 L2117.3 1309.2 L2123.0 1338.8 L2128.7 1338.8 L2134.4 1335.8 L2140.1 1280.1 L2145.8 1337.6 L2151.5 1337.0 L2157.2 1250.0 L2162.9 1337.0 L2168.6 1338.8 L2174.3 1337.0 L2180.0 1238.1 L2185.6 1337.0 L2191.3 1326.9 L2197.0 1220.3 L2201.6 1338.8 L2208.4 1338.8 L2214.1 1329.9 L2219.8 1338.8 L2225.5 1338.8 L2231.2 1338.8 L2236.9 1338.8 L2242.6 1338.8 L2248.3 1338.8 L2254.0 1332.8 L2259.7 1267.7 L2265.4 1335.8 L2271.1 1334.0" fill="none" stroke="#ffc000" stroke-opacity="0.6" stroke-width="2.8" stroke-linejoin="round" mask="url(#nb)"/>
<path d="M191.3 1332.5 L197.0 1287.5 L202.7 1250.0 L207.3 1338.8 L214.1 1338.8 L220.9 1338.8 L225.5 1270.0 L231.2 1233.8 L236.9 1327.5 L242.6 1322.5 L248.3 1338.8 L254.0 1338.8 L260.8 1338.8 L265.4 1233.8 L271.1 1238.8 L276.8 1302.5 L282.5 1268.8 L287.1 1338.8 L293.9 1338.8 L300.7 1338.8 L305.3 1186.2 L311.0 1330.0 L316.7 1250.0 L322.4 1208.8 L328.1 1297.5 L333.8 1322.5 L339.5 1256.2 L345.2 1301.2 L350.9 1310.0 L356.6 1338.8 L362.3 1322.5 L368.0 1333.8 L373.7 1326.2 L379.4 1332.5 L386.2 1338.8 L390.8 1280.0 L395.4 1338.8 L402.2 1338.8 L407.9 1338.8 L413.6 1338.8 L419.3 1312.5 L425.0 1250.0 L430.7 1164.4 L436.4 1078.8 L442.1 1225.0 L447.8 1330.0 L453.5 1335.0 L459.2 1225.0 L464.9 1150.0 L470.6 1195.0 L476.2 1055.0 L481.9 1225.0 L487.6 1292.5 L493.3 1332.5 L499.0 1322.5 L504.7 1335.0 L510.4 1272.5 L516.1 1260.0 L521.8 1245.0 L526.4 1338.8 L533.2 1335.0 L538.9 1291.2 L544.6 1332.5 L550.3 1250.0 L556.0 930.0 L561.7 1250.0 L566.3 1338.8 L574.2 1338.8 L578.8 1150.0 L584.5 995.0 L590.2 1082.5 L595.9 1060.0 L601.6 1037.5 L606.2 1338.8 L614.1 1338.8 L618.7 1150.0 L624.4 918.8 L630.1 944.4 L635.8 970.0 L641.5 1037.5 L646.1 1338.8 L654.0 1338.8 L658.6 870.0 L664.3 860.0 L670.0 823.8 L675.7 1095.0 L681.4 858.8 L686.0 1338.8 L693.9 1338.8 L698.5 1054.6 L704.2 1013.1 L709.9 912.5 L715.6 936.2 L721.3 1255.9 L725.9 1338.8 L733.8 1338.8 L738.4 1013.1 L744.1 912.5 L749.8 877.0 L755.5 954.0 L761.1 877.0 L765.7 1338.8 L772.5 1338.8 L779.3 1338.8 L783.9 989.5 L789.6 1042.8 L795.3 800.0 L801.0 1072.3 L805.6 1338.8 L813.5 1338.8 L818.1 894.8 L823.8 847.4 L829.5 865.1 L835.2 770.4 L840.9 882.9 L845.5 1338.8 L853.4 1338.8 L858.0 764.5 L863.7 954.0 L869.4 1042.8 L875.1 1013.1 L879.7 1338.8 L886.5 1338.8 L893.3 1338.8 L897.9 871.1 L903.6 871.1 L909.3 1161.2 L915.0 954.0 L920.7 800.0 L925.3 1338.8 L933.2 1338.8 L937.8 1013.1 L943.5 859.2 L949.2 873.4 L954.9 1161.2 L960.6 1279.5 L965.2 1338.8 L973.1 1338.8 L977.7 663.9 L983.4 746.8 L989.1 805.9 L994.8 871.1 L1000.5 758.6 L1005.1 1338.8 L1013.0 1338.8 L1017.6 1161.2 L1023.3 1161.2 L1029.0 839.7 L1034.7 1178.9 L1040.4 1161.2 L1044.9 1338.8 L1052.8 1338.8 L1057.4 734.9 L1063.1 877.0 L1068.8 776.4 L1074.5 924.3 L1080.2 1102.0 L1084.8 1338.8 L1092.7 1338.8 L1097.3 1102.0 L1103.0 912.5 L1108.7 1013.1 L1113.3 1338.8 L1115.5 1338.8 L1120.1 805.9 L1124.7 1338.8 L1132.6 1338.8 L1137.2 403.4 L1142.9 746.8 L1148.6 1102.0 L1154.3 1161.2 L1160.0 1279.5 L1164.6 1338.8 L1172.5 1338.8 L1177.1 1072.3 L1182.8 753.9 L1188.5 1030.9 L1194.2 829.6 L1199.9 1072.3 L1204.5 1338.8 L1212.4 1338.8 L1217.0 1042.8 L1222.7 734.9 L1228.4 746.8 L1234.1 755.0 L1239.8 983.5 L1244.4 1338.8 L1252.3 1338.8 L1256.9 965.8 L1262.6 1001.3 L1268.3 954.0 L1274.0 853.3 L1279.7 753.9 L1284.3 1338.8 L1292.2 1338.8 L1296.8 1013.1 L1302.5 717.1 L1308.2 687.5 L1313.9 1042.8 L1319.6 971.7 L1324.2 1338.8 L1332.0 1338.8 L1336.6 776.4 L1342.3 942.1 L1348.0 699.4 L1353.7 983.5 L1359.4 723.1 L1364.0 1338.8 L1371.9 1338.8 L1376.5 740.8 L1382.2 853.3 L1387.9 776.4 L1393.6 805.9 L1399.3 983.5 L1403.9 1338.8 L1411.8 1338.8 L1416.4 1261.8 L1422.1 1102.0 L1427.8 954.0 L1433.5 954.0 L1439.2 954.0 L1443.8 1338.8 L1451.7 1338.8 L1456.3 1042.8 L1462.0 930.3 L1467.7 859.2 L1473.4 885.9 L1479.1 871.1 L1483.7 1338.8 L1491.6 1338.8 L1496.2 924.3 L1501.9 1013.1 L1507.6 1013.1 L1513.3 811.9 L1519.0 983.5 L1523.6 1338.8 L1531.5 1338.8 L1536.1 924.3 L1541.8 877.0 L1547.5 841.5 L1553.2 1042.8 L1558.9 823.7 L1563.5 1338.8 L1570.3 1338.8 L1576.0 1315.1 L1581.7 1042.8 L1587.4 983.5 L1593.1 871.1 L1598.8 1042.8 L1603.4 1338.8 L1611.3 1338.8 L1615.8 1013.1 L1621.5 841.5 L1627.2 995.4 L1632.9 995.4 L1638.6 859.2 L1643.2 1338.8 L1651.1 1338.8 L1655.7 1042.8 L1661.4 983.5 L1667.1 995.4 L1672.8 1072.3 L1678.5 954.0 L1683.1 1338.8 L1691.0 1338.8 L1695.6 912.5 L1701.3 954.0 L1707.0 986.5 L1712.7 1042.8 L1718.4 1303.2 L1723.0 1338.8 L1729.8 1338.8 L1735.5 1326.9 L1741.2 1332.8 L1746.9 1261.8 L1752.6 1315.1 L1758.3 1297.3 L1762.9 1338.8 L1770.8 1338.8 L1775.4 1250.0 L1781.1 977.6 L1786.8 1013.1 L1792.5 1161.2 L1798.2 1297.3 L1802.8 1338.8 L1809.6 1338.8 L1815.3 1338.8 L1821.0 1338.8 L1826.7 1321.0 L1832.4 1208.5 L1838.1 1326.9 L1843.8 1332.8 L1849.5 1303.2 L1855.2 1267.7 L1860.9 1066.4 L1866.6 1273.6 L1872.3 1090.1 L1878.0 1303.2 L1882.6 1338.8 L1890.5 1338.8 L1895.1 1042.8 L1900.7 1267.7 L1906.4 1025.0 L1912.1 1321.0 L1917.8 1285.5 L1922.4 1338.8 L1929.2 1338.8 L1934.9 1326.9 L1940.6 1338.8 L1946.3 1326.9 L1952.0 1173.0 L1957.7 1332.8 L1963.4 1338.8 L1969.1 1338.8 L1974.8 1338.8 L1980.5 1338.8 L1986.2 1338.8 L1991.9 1332.8 L1997.6 1245.2 L2003.3 1332.8 L2009.0 1338.8 L2014.7 1321.0 L2020.4 1309.2 L2026.1 1309.2 L2031.8 1226.3 L2037.5 1220.3 L2042.1 1338.8 L2048.9 1338.8 L2054.6 1321.0 L2060.3 1190.8 L2066.0 1184.8 L2071.7 1202.6 L2076.3 1338.8 L2083.1 1338.8 L2088.8 1338.8 L2094.5 1332.8 L2100.2 1209.1 L2105.9 1231.0 L2111.6 1332.8 L2117.3 1309.2 L2123.0 1338.8 L2128.7 1338.8 L2134.4 1335.8 L2140.1 1280.1 L2145.8 1337.6 L2151.5 1337.0 L2157.2 1250.0 L2162.9 1337.0 L2168.6 1338.8 L2174.3 1337.0 L2180.0 1238.1 L2185.6 1337.0 L2191.3 1326.9 L2197.0 1220.3 L2201.6 1338.8 L2208.4 1338.8 L2214.1 1329.9 L2219.8 1338.8 L2225.5 1338.8 L2231.2 1338.8 L2236.9 1338.8 L2242.6 1338.8 L2248.3 1338.8 L2254.0 1332.8 L2259.7 1267.7 L2265.4 1335.8 L2271.1 1334.0" fill="none" stroke="#ffc000" stroke-opacity="0.5" stroke-width="1.8" stroke-linejoin="round" clip-path="url(#inb)"/>
<path d="M191.3 1338.8 L191.3 1338.8 L197.0 1338.8 L202.7 1338.8 L208.4 1338.8 L214.1 1338.8 L219.8 1338.8 L225.5 1338.8 L231.2 1338.8 L236.9 1338.8 L242.6 1338.8 L248.3 1338.8 L254.0 1338.8 L259.7 1338.8 L265.4 1338.8 L271.1 1338.8 L276.8 1338.8 L282.5 1338.8 L288.2 1338.8 L293.9 1338.8 L299.6 1338.8 L305.3 1338.8 L311.0 1338.8 L316.7 1338.8 L322.4 1338.8 L328.1 1338.8 L333.8 1338.8 L339.5 1338.8 L345.2 1338.8 L350.9 1338.8 L356.6 1338.8 L362.3 1338.8 L368.0 1338.8 L373.7 1338.8 L379.4 1338.8 L385.1 1338.8 L390.8 1338.8 L396.5 1338.8 L402.2 1338.8 L407.9 1338.8 L413.6 1338.8 L419.3 1326.2 L425.0 1333.8 L430.7 1332.0 L436.4 1338.8 L442.1 1338.8 L447.8 1338.8 L453.5 1338.8 L459.2 1338.8 L464.9 1338.8 L470.6 1338.8 L476.2 1332.5 L481.9 1338.8 L487.6 1338.8 L493.3 1338.8 L499.0 1338.8 L504.7 1338.8 L510.4 1326.2 L516.1 1325.0 L521.8 1326.2 L527.5 1338.8 L533.2 1338.8 L538.9 1308.8 L544.6 1333.8 L550.3 1325.0 L556.0 1315.0 L561.7 1321.2 L567.4 1338.8 L573.1 1338.8 L578.8 1326.2 L584.5 1333.8 L590.2 1333.1 L595.9 1332.5 L601.6 1321.2 L607.3 1338.8 L613.0 1338.8 L618.7 1315.0 L624.4 1320.0 L630.1 1330.0 L635.8 1338.8 L641.5 1338.8 L647.2 1338.8 L652.9 1338.8 L658.6 1291.2 L664.3 1302.5 L670.0 1310.0 L675.7 1327.5 L681.4 1338.8 L687.1 1338.8 L692.8 1338.8 L698.5 1273.6 L704.2 1291.4 L709.9 1338.8 L715.6 1338.8 L721.3 1338.8 L727.0 1338.8 L732.7 1338.8 L738.4 1338.8 L744.1 1338.8 L749.8 1338.8 L755.5 1338.8 L761.1 1338.8 L766.8 1338.8 L772.5 1338.8 L778.2 1338.8 L783.9 1338.8 L789.6 1338.8 L795.3 1338.8 L801.0 1338.8 L806.7 1338.8 L812.4 1338.8 L818.1 1338.8 L823.8 1338.8 L829.5 1329.9 L835.2 1329.9 L840.9 1338.8 L846.6 1338.8 L852.3 1338.8 L858.0 1338.8 L863.7 1338.8 L869.4 1338.8 L875.1 1338.8 L880.8 1338.8 L886.5 1338.8 L892.2 1338.8 L897.9 1338.8 L903.6 1329.9 L909.3 1338.8 L915.0 1329.9 L920.7 1338.8 L926.4 1338.8 L932.1 1338.8 L937.8 1338.8 L943.5 1338.8 L949.2 1338.8 L954.9 1338.8 L960.6 1329.9 L966.3 1338.8 L972.0 1338.8 L977.7 1338.8 L983.4 1338.8 L989.1 1315.1 L994.8 1321.0 L1000.5 1321.0 L1006.2 1338.8 L1011.9 1338.8 L1017.6 1338.8 L1023.3 1326.9 L1029.0 1321.0 L1034.7 1315.1 L1040.4 1338.8 L1046.0 1338.8 L1051.7 1315.1 L1057.4 1315.1 L1063.1 1315.1 L1068.8 1315.1 L1074.5 1315.1 L1080.2 1329.9 L1085.9 1338.8 L1091.6 1338.8 L1097.3 1338.8 L1103.0 1338.8 L1108.7 1338.8 L1114.4 1338.8 L1120.1 1321.0 L1125.8 1338.8 L1131.5 1338.8 L1137.2 1338.8 L1142.9 1332.8 L1148.6 1338.8 L1154.3 1338.8 L1160.0 1338.8 L1165.7 1338.8 L1171.4 1338.8 L1177.1 1321.0 L1182.8 1338.8 L1188.5 1338.8 L1194.2 1338.8 L1199.9 1338.8 L1205.6 1338.8 L1211.3 1338.8 L1217.0 1338.8 L1222.7 1315.1 L1228.4 1332.8 L1234.1 1335.8 L1239.8 1315.1 L1245.5 1338.8 L1251.2 1338.8 L1256.9 1332.8 L1262.6 1309.2 L1268.3 1338.8 L1274.0 1338.8 L1279.7 1338.8 L1285.4 1338.8 L1291.1 1338.8 L1296.8 1338.8 L1302.5 1321.0 L1308.2 1324.0 L1313.9 1309.2 L1319.6 1338.8 L1325.3 1338.8 L1330.9 1338.8 L1336.6 1338.8 L1342.3 1326.9 L1348.0 1332.8 L1353.7 1335.8 L1359.4 1332.8 L1365.1 1338.8 L1370.8 1338.8 L1376.5 1338.8 L1382.2 1329.9 L1387.9 1329.9 L1393.6 1321.0 L1399.3 1332.8 L1405.0 1338.8 L1410.7 1338.8 L1416.4 1338.8 L1422.1 1338.8 L1427.8 1326.9 L1433.5 1335.8 L1439.2 1332.8 L1444.9 1338.8 L1450.6 1338.8 L1456.3 1338.8 L1462.0 1338.8 L1467.7 1332.8 L1473.4 1332.8 L1479.1 1338.8 L1484.8 1338.8 L1490.5 1338.8 L1496.2 1338.8 L1501.9 1338.8 L1507.6 1338.8 L1513.3 1338.8 L1519.0 1332.8 L1524.7 1338.8 L1530.4 1338.8 L1536.1 1338.8 L1541.8 1338.8 L1547.5 1338.8 L1553.2 1338.8 L1558.9 1338.8 L1564.6 1338.8 L1570.3 1338.8 L1576.0 1338.8 L1581.7 1338.8 L1587.4 1338.8 L1593.1 1338.8 L1598.8 1338.8 L1604.5 1338.8 L1610.2 1338.8 L1615.8 1338.8 L1621.5 1338.8 L1627.2 1338.8 L1632.9 1338.8 L1638.6 1338.8 L1644.3 1338.8 L1650.0 1338.8 L1655.7 1338.8 L1661.4 1338.8 L1667.1 1338.8 L1672.8 1338.8 L1678.5 1338.8 L1684.2 1338.8 L1689.9 1338.8 L1695.6 1338.8 L1701.3 1338.8 L1707.0 1338.8 L1712.7 1338.8 L1718.4 1338.8 L1724.1 1338.8 L1729.8 1338.8 L1735.5 1338.8 L1741.2 1338.8 L1746.9 1338.8 L1752.6 1338.8 L1758.3 1309.2 L1764.0 1338.8 L1769.7 1338.8 L1775.4 1321.0 L1781.1 1306.2 L1786.8 1294.3 L1792.5 1309.2 L1798.2 1338.8 L1803.9 1338.8 L1809.6 1338.8 L1815.3 1338.8 L1821.0 1338.8 L1826.7 1338.8 L1832.4 1338.8 L1838.1 1338.8 L1843.8 1338.8 L1849.5 1338.8 L1855.2 1332.8 L1860.9 1334.0 L1866.6 1338.8 L1872.3 1334.0 L1878.0 1338.8 L1883.7 1338.8 L1889.4 1338.8 L1895.1 1338.8 L1900.7 1338.8 L1906.4 1338.8 L1912.1 1338.8 L1917.8 1338.8 L1923.5 1338.8 L1929.2 1338.8 L1934.9 1338.8 L1940.6 1338.8 L1946.3 1338.8 L1952.0 1338.8 L1957.7 1338.8 L1963.4 1338.8 L1969.1 1338.8 L1974.8 1338.8 L1980.5 1338.8 L1986.2 1338.8 L1991.9 1338.8 L1997.6 1338.8 L2003.3 1338.8 L2009.0 1338.8 L2014.7 1338.8 L2020.4 1338.8 L2026.1 1338.8 L2031.8 1338.8 L2037.5 1338.8 L2043.2 1338.8 L2048.9 1338.8 L2054.6 1338.8 L2060.3 1338.8 L2066.0 1338.8 L2071.7 1338.8 L2077.4 1338.8 L2083.1 1338.8 L2088.8 1338.8 L2094.5 1338.8 L2100.2 1338.8 L2105.9 1338.8 L2111.6 1338.8 L2117.3 1338.8 L2123.0 1338.8 L2128.7 1338.8 L2134.4 1338.8 L2140.1 1338.8 L2145.8 1338.8 L2151.5 1338.8 L2157.2 1338.8 L2162.9 1338.8 L2168.6 1338.8 L2174.3 1338.8 L2180.0 1338.8 L2185.6 1338.8 L2191.3 1338.8 L2197.0 1338.8 L2202.7 1338.8 L2208.4 1338.8 L2214.1 1338.8 L2219.8 1338.8 L2225.5 1338.8 L2231.2 1338.8 L2236.9 1338.8 L2242.6 1338.8 L2248.3 1338.8 L2254.0 1338.8 L2259.7 1338.8 L2265.4 1338.8 L2271.1 1338.8 L2271.1 1338.8Z" fill="#ff0000" stroke="#ff0000" stroke-width="1" stroke-linejoin="round"/>
</g>
<g stroke="#1a1a1a" stroke-width="4" fill="none">
<line x1="170" y1="153.5" x2="2275" y2="153.5"/>
<line x1="170" y1="1338.8" x2="2275" y2="1338.8" stroke="#000" stroke-width="4.4"/>
<line x1="188.5" y1="153" x2="188.5" y2="1358.5" stroke="#000"/>
<line x1="2274" y1="153" x2="2274" y2="1358.5" stroke-width="4.2"/>
<line x1="170" y1="1042.8" x2="190" y2="1042.8"/>
<line x1="170" y1="746.8" x2="190" y2="746.8"/>
<line x1="170" y1="450.8" x2="190" y2="450.8"/>
<line x1="365.1" y1="1338" x2="365.1" y2="1358.5" stroke="#333"/>
<line x1="530.4" y1="1338" x2="530.4" y2="1358.5" stroke="#333"/>
<line x1="707.0" y1="1338" x2="707.0" y2="1358.5" stroke="#333"/>
<line x1="878.0" y1="1338" x2="878.0" y2="1358.5" stroke="#333"/>
<line x1="1054.6" y1="1338" x2="1054.6" y2="1358.5" stroke="#333"/>
<line x1="1225.5" y1="1338" x2="1225.5" y2="1358.5" stroke="#333"/>
<line x1="1402.2" y1="1338" x2="1402.2" y2="1358.5" stroke="#333"/>
<line x1="1578.8" y1="1338" x2="1578.8" y2="1358.5" stroke="#333"/>
<line x1="1749.8" y1="1338" x2="1749.8" y2="1358.5" stroke="#333"/>
<line x1="1926.4" y1="1338" x2="1926.4" y2="1358.5" stroke="#333"/>
<line x1="2097.3" y1="1338" x2="2097.3" y2="1358.5" stroke="#333"/>
</g>
<rect x="1868.5" y="181" width="284.5" height="243.5" rx="4" ry="4" fill="#fff" stroke="#444" stroke-width="4.4"/>
</g>
<g filter="url(#bl)">
<rect x="214" y="62.5" width="31" height="31" fill="#0070c0"/>
<rect x="925" y="63.5" width="30" height="30" fill="#ffeaa9" stroke="#ffd966" stroke-width="2"/>
<rect x="1636" y="62.5" width="32" height="31" fill="#ff0000"/>
<text x="256.5" y="93.5" font-size="45.0" text-anchor="start" fill="#000" textLength="512.0" lengthAdjust="spacingAndGlyphs" stroke="#000" stroke-width="0.6">Energy export in T3 zone</text>
<text x="968.5" y="93.5" font-size="45.0" text-anchor="start" fill="#000" textLength="511.5" lengthAdjust="spacingAndGlyphs" stroke="#000" stroke-width="0.6">Export energy in T1 zone</text>
<text x="1680.0" y="93.5" font-size="45.0" text-anchor="start" fill="#000" textLength="512.5" lengthAdjust="spacingAndGlyphs" stroke="#000" stroke-width="0.6">Energy export in T2 zone</text>
<text x="113.5" y="1351.2" font-size="47.0" text-anchor="start" fill="#111" textLength="25.0" lengthAdjust="spacingAndGlyphs">0</text>
<text x="113.5" y="1055.2" font-size="47.0" text-anchor="start" fill="#111" textLength="25.0" lengthAdjust="spacingAndGlyphs">5</text>
<text x="91.5" y="759.2" font-size="47.0" text-anchor="start" fill="#111" textLength="47.0" lengthAdjust="spacingAndGlyphs">10</text>
<text x="91.5" y="463.2" font-size="47.0" text-anchor="start" fill="#111" textLength="47.0" lengthAdjust="spacingAndGlyphs">15</text>
<text x="91.5" y="167.2" font-size="47.0" text-anchor="start" fill="#111" textLength="47.0" lengthAdjust="spacingAndGlyphs">20</text>
<text x="155.0" y="1430.0" font-size="47.0" text-anchor="start" fill="#3a3a3a" textLength="70.0" lengthAdjust="spacingAndGlyphs">Jan</text>
<text x="326.0" y="1430.0" font-size="47.0" text-anchor="start" fill="#3a3a3a" textLength="84.0" lengthAdjust="spacingAndGlyphs">Feb</text>
<text x="489.0" y="1430.0" font-size="47.0" text-anchor="start" fill="#3a3a3a" textLength="91.0" lengthAdjust="spacingAndGlyphs">Mar</text>
<text x="669.0" y="1430.0" font-size="47.0" text-anchor="start" fill="#3a3a3a" textLength="82.0" lengthAdjust="spacingAndGlyphs">Apr</text>
<text x="831.5" y="1430.0" font-size="47.0" text-anchor="start" fill="#3a3a3a" textLength="98.5" lengthAdjust="spacingAndGlyphs">May</text>
<text x="1017.5" y="1430.0" font-size="47.0" text-anchor="start" fill="#3a3a3a" textLength="77.5" lengthAdjust="spacingAndGlyphs">Jun</text>
<text x="1197.5" y="1430.0" font-size="47.0" text-anchor="start" fill="#3a3a3a" textLength="58.5" lengthAdjust="spacingAndGlyphs">Jul</text>
<text x="1362.5" y="1430.0" font-size="47.0" text-anchor="start" fill="#3a3a3a" textLength="86.0" lengthAdjust="spacingAndGlyphs">Aug</text>
<text x="1538.5" y="1430.0" font-size="47.0" text-anchor="start" fill="#3a3a3a" textLength="85.5" lengthAdjust="spacingAndGlyphs">Sep</text>
<text x="1712.5" y="1430.0" font-size="47.0" text-anchor="start" fill="#3a3a3a" textLength="81.5" lengthAdjust="spacingAndGlyphs">Oct</text>
<text x="1887.5" y="1430.0" font-size="47.0" text-anchor="start" fill="#3a3a3a" textLength="86.5" lengthAdjust="spacingAndGlyphs">Nov</text>
<text x="2060.0" y="1430.0" font-size="47.0" text-anchor="start" fill="#3a3a3a" textLength="82.5" lengthAdjust="spacingAndGlyphs">Dec</text>
<text x="1158.0" y="1505.0" font-size="47.0" text-anchor="start" fill="#3a3a3a" textLength="107.0" lengthAdjust="spacingAndGlyphs">Date</text>
<text transform="translate(68.0 1056.0) rotate(-90)" font-size="50.0" fill="#4a4a4a" textLength="572.0" lengthAdjust="spacingAndGlyphs" style="white-space:pre">Energy export  kWh/day</text>
<text x="1892.0" y="246.0" font-size="51.0" text-anchor="start" fill="#333" textLength="54.0" lengthAdjust="spacingAndGlyphs">T1</text>
<text x="1976.0" y="246.0" font-size="51.0" text-anchor="start" fill="#333" textLength="98.0" lengthAdjust="spacingAndGlyphs">43.6</text>
<text x="2090.5" y="246.0" font-size="51.0" text-anchor="start" fill="#333" textLength="39.5" lengthAdjust="spacingAndGlyphs">%</text>
<text x="1896.0" y="318.4" font-size="51.0" text-anchor="start" fill="#333" textLength="54.0" lengthAdjust="spacingAndGlyphs">T2</text>
<text x="2004.0" y="318.4" font-size="51.0" text-anchor="start" fill="#333" textLength="70.0" lengthAdjust="spacingAndGlyphs">0.8</text>
<text x="2090.5" y="318.4" font-size="51.0" text-anchor="start" fill="#333" textLength="39.5" lengthAdjust="spacingAndGlyphs">%</text>
<text x="1892.0" y="387.8" font-size="51.0" text-anchor="start" fill="#333" textLength="54.0" lengthAdjust="spacingAndGlyphs">T3</text>
<text x="1976.0" y="387.8" font-size="51.0" text-anchor="start" fill="#333" textLength="98.0" lengthAdjust="spacingAndGlyphs">55.6</text>
<text x="2090.5" y="387.8" font-size="51.0" text-anchor="start" fill="#333" textLength="39.5" lengthAdjust="spacingAndGlyphs">%</text>
</g>
</svg>
</body></html>
